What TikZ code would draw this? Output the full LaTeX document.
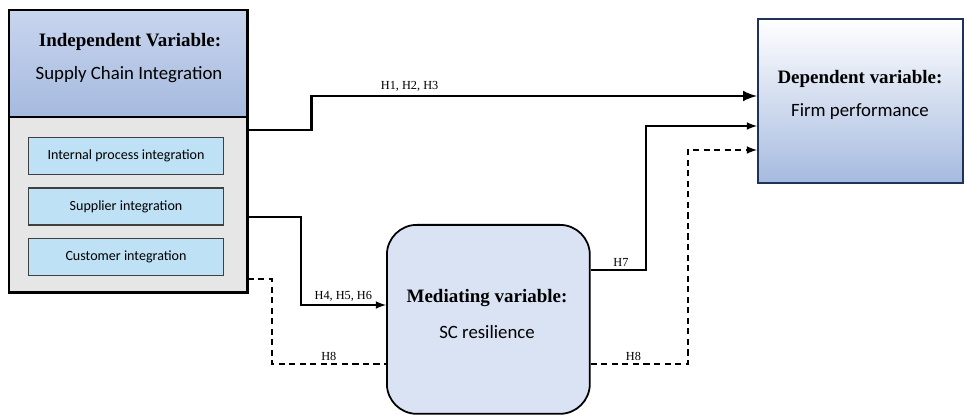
\documentclass[tikz,border=0pt]{standalone}
\usepackage{fontspec}
\setmainfont{Liberation Serif}
\newfontfamily\calfont{Carlito}
\usetikzlibrary{arrows.meta, positioning, calc}

\definecolor{headtop}{RGB}{200,213,238}
\definecolor{headbot}{RGB}{166,186,223}
\definecolor{bodygray}{RGB}{230,230,230}
\definecolor{itemblue}{RGB}{190,225,245}
\definecolor{depblue}{RGB}{166,186,223}
\definecolor{depline}{RGB}{31,50,90}
\definecolor{medfill}{RGB}{218,227,243}

\tikzset{
  itembox/.style={draw=black!75, line width=0.8pt, fill=itemblue,
    minimum width=3.9cm, minimum height=0.74cm, font=\calfont\fontsize{8}{9}\selectfont},
  boldtxt/.style={font=\bfseries\fontsize{10.8}{12}\selectfont},
  caltxt/.style={font=\calfont\fontsize{10.7}{12}\selectfont},
  hlabel/.style={font=\fontsize{7}{8}\selectfont, inner sep=1.5pt},
  link/.style={line width=1pt, ->},
  dline/.style={line width=1pt, dash pattern=on 3.5pt off 2.5pt},
}

\begin{document}
\begin{tikzpicture}[>=latex, x=0.02cm, y=-0.02cm]

\useasboundingbox (0,0) rectangle (964,415);

% independent variable
\node[anchor=north west, inner sep=0, minimum width=4.76cm, minimum height=2.12cm,
      top color=headtop, bottom color=headbot] (indephead) at (9,10) {};
\node[anchor=north west, inner sep=0, minimum width=4.76cm, minimum height=3.52cm,
      fill=bodygray] (indepbody) at (9,116) {};
\draw[line width=1.6pt] (indephead.north west) rectangle (indepbody.south east);
\draw[line width=1.2pt] (indephead.south west) -- (indephead.south east);
\node[boldtxt] (indeptitle) at (130,42) {Independent Variable:};
\node[caltxt] (indepname) at (129,75) {Supply Chain Integration};

\node[itembox] (internal) at (126,156) {Internal process integration};
\node[itembox, below=0.24cm of internal] (supplier) {Supplier integration};
\node[itembox, below=0.24cm of supplier] (customer) {Customer integration};

% dependent variable
\node[anchor=north west, draw=depline, line width=1.2pt, inner sep=0,
      minimum width=4.1cm, minimum height=3.28cm,
      top color=white, bottom color=depblue] (dep) at (757,18) {};
\node[boldtxt] (deptitle) at (860,79) {Dependent variable:};
\node[caltxt] (depname) at (860,112) {Firm performance};

% mediating variable
\node[anchor=north west, draw, line width=1pt, rounded corners=0.6cm, inner sep=0,
      minimum width=4.06cm, minimum height=3.78cm, fill=medfill] (med) at (386,224) {};
\node[boldtxt] (medtitle) at (487,298) {Mediating variable:};
\node[caltxt] (medname) at (487,332) {SC resilience};

% links
\coordinate (s1) at ($(indepbody.north east)+(0,14)$);
\coordinate (s2) at ($(indepbody.north east)+(0,101)$);
\coordinate (s3) at ($(indepbody.north east)+(0,163)$);
\coordinate (s4) at ($(med.north east)+(0,46)$);
\coordinate (s5) at ($(med.north east)+(0,140)$);
\coordinate (t1) at ($(dep.north west)+(0,78)$);
\coordinate (t4) at ($(dep.north west)+(0,108)$);
\coordinate (t5) at ($(dep.north west)+(0,132)$);
\coordinate (t2) at ($(med.north west)+(0,81)$);
\coordinate (t3) at ($(med.north west)+(0,140)$);

\draw[link, line width=1.7pt] (s1) -- ++(64,0) |- node[hlabel, above, pos=0.61] {H1, H2, H3} (t1);
\draw[link] (s2) -- ++(53,0) |- node[hlabel, above, pos=0.75] {H4, H5, H6} (t2);
\draw[dline] (s3) -- ++(24,0) |- node[hlabel, above, pos=0.75] {H8} (t3);
\draw[link] (s4) -- node[hlabel, above, pos=0.55] {H7} ++(55,0) |- (t4);
\draw[dline, ->] (s5) -- node[hlabel, above, pos=0.44] {H8} ++(97,0) |- (t5);

\end{tikzpicture}
\end{document}
